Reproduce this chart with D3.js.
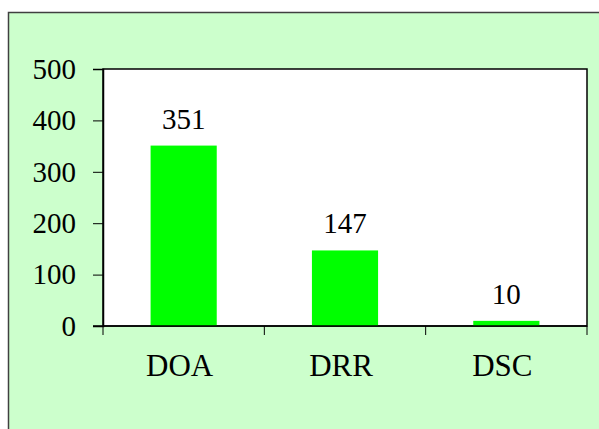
<!DOCTYPE html>
<html>
<head>
<meta charset="utf-8">
<script src="https://cdn.jsdelivr.net/npm/d3@7"></script>
</head>
<body style="margin:0; background:#ffffff">
<div id="chart"></div>
<script>
// data
var categories = ["DOA", "DRR", "DSC"];
var values = [351, 147, 10];
var yTicks = [0, 100, 200, 300, 400, 500];

var W = 599, H = 429;
var plot = { left: 103, top: 69, right: 587, bottom: 326 };
var FONT = "Liberation Serif";

var svg = d3.select("#chart").append("svg")
  .attr("width", W)
  .attr("height", H)
  .style("display", "block")
  .attr("font-family", FONT);

// outer chart area (cropped at right / bottom)
svg.append("rect")
  .attr("x", 8.5).attr("y", 12.5)
  .attr("width", W).attr("height", H)
  .attr("fill", "#ccffcc")
  .attr("stroke", "#404040")
  .attr("stroke-width", 1.5);

// plot area
svg.append("rect")
  .attr("x", plot.left).attr("y", plot.top)
  .attr("width", plot.right - plot.left)
  .attr("height", plot.bottom - plot.top)
  .attr("fill", "#ffffff")
  .attr("stroke", "#000")
  .attr("stroke-width", 1.5);

var x = d3.scaleBand()
  .domain(categories)
  .range([plot.left, plot.right])
  .padding(0);

var y = d3.scaleLinear()
  .domain([0, 500])
  .range([plot.bottom, plot.top]);

var barW = x.bandwidth() * 0.41;

// bars
svg.selectAll("rect.bar")
  .data(values)
  .enter()
  .append("rect")
    .attr("class", "bar")
    .attr("x", function (d, i) { return x(categories[i]) + x.bandwidth() / 2 - barW / 2; })
    .attr("y", function (d) { return y(d); })
    .attr("width", barW)
    .attr("height", function (d) { return y(0) - y(d); })
    .attr("fill", "#00ff00");

// value labels
svg.selectAll("text.val")
  .data(values)
  .enter()
  .append("text")
    .attr("class", "val")
    .attr("x", function (d, i) { return x(categories[i]) + x.bandwidth() / 2; })
    .attr("y", function (d) { return y(d) - 17; })
    .attr("text-anchor", "middle")
    .attr("font-family", FONT)
    .attr("font-size", 29)
    .attr("fill", "#000")
    .text(function (d) { return d; });

// y axis
var yAxis = d3.axisLeft(y)
  .tickValues(yTicks)
  .tickSize(10)
  .tickPadding(17);

var gy = svg.append("g")
  .attr("transform", "translate(" + plot.left + ",0)")
  .call(yAxis)
  .attr("font-family", FONT)
  .attr("font-size", 29);
gy.select(".domain").attr("stroke", "#000").attr("stroke-width", 1.5);
gy.selectAll(".tick line").attr("stroke", "#000").attr("stroke-width", 1);
gy.selectAll(".tick text").attr("fill", "#000");

// x axis: ticks at category boundaries
var boundaries = categories.map(function (c) { return x(c); }).concat([plot.right]);
svg.append("line")
  .attr("x1", plot.left - 10).attr("x2", plot.right)
  .attr("y1", plot.bottom).attr("y2", plot.bottom)
  .attr("stroke", "#000").attr("stroke-width", 1.5);
svg.selectAll("line.xtick")
  .data(boundaries)
  .enter()
  .append("line")
    .attr("class", "xtick")
    .attr("x1", function (d) { return d; })
    .attr("x2", function (d) { return d; })
    .attr("y1", plot.bottom)
    .attr("y2", plot.bottom + 9)
    .attr("stroke", "#000").attr("stroke-width", 1);

svg.selectAll("text.cat")
  .data(categories)
  .enter()
  .append("text")
    .attr("class", "cat")
    .attr("x", function (d) { return x(d) + x.bandwidth() / 2 - 4; })
    .attr("y", 376)
    .attr("text-anchor", "middle")
    .attr("font-family", FONT)
    .attr("font-size", 31)
    .attr("fill", "#000")
    .text(function (d) { return d; });
</script>
</body>
</html>
